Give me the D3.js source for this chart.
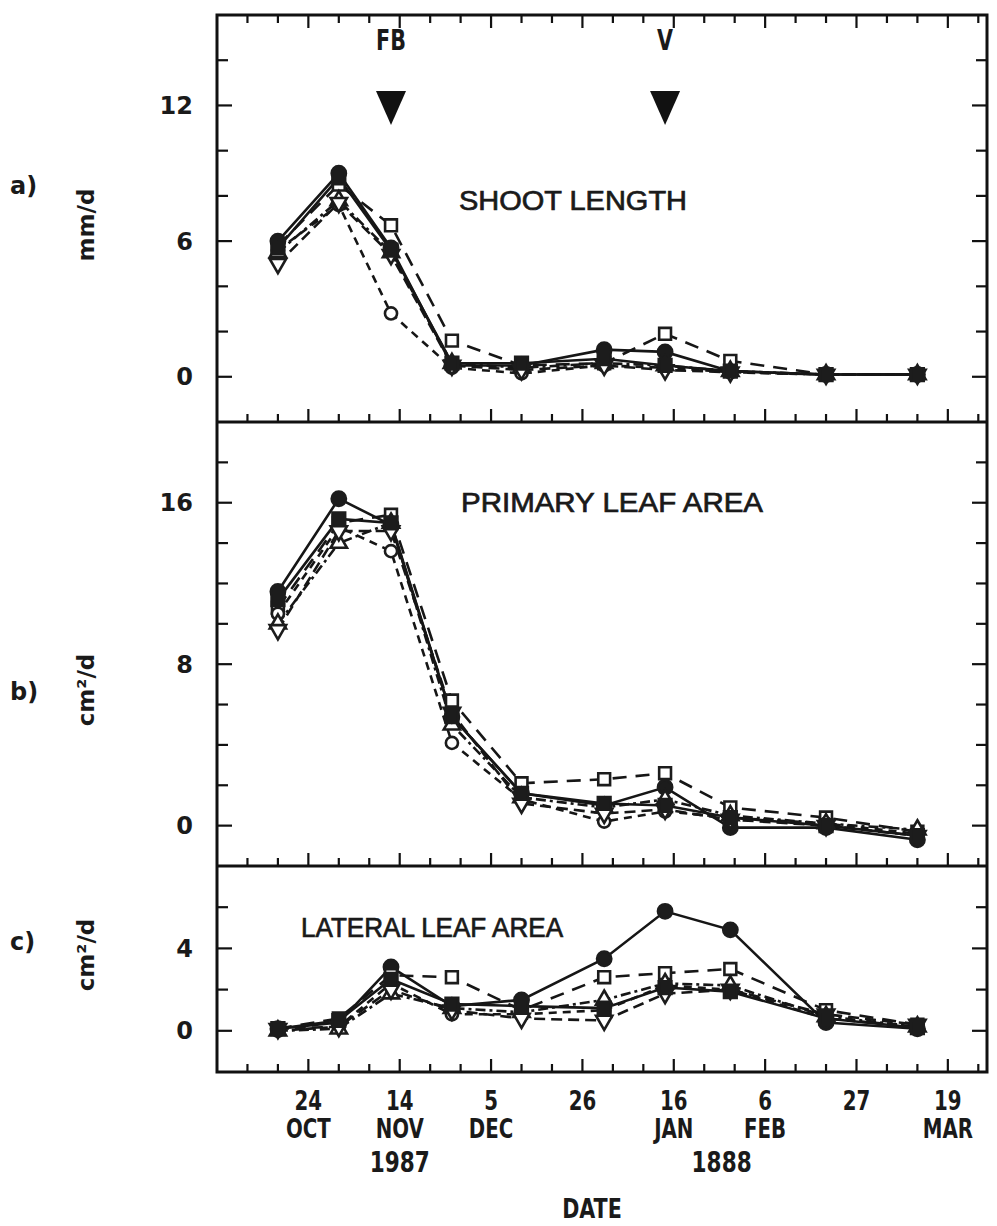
<!DOCTYPE html>
<html>
<head>
<meta charset="utf-8">
<script src="https://cdn.jsdelivr.net/npm/d3@7"></script>
<style>
  html, body { margin: 0; padding: 0; background: #fff; }
  svg { display: block; }
</style>
</head>
<body>
<script>
// Sampling dates (1987-88 season)
const sampleDates = ["1987-10-17","1987-10-31","1987-11-12","1987-11-26","1987-12-12",
                     "1987-12-31","1988-01-14","1988-01-29","1988-02-20","1988-03-12"];

// Treatment keys and their marker / line style
const seriesKeys = ["T1","T2","T3","T4","T5","T6"];

// a) shoot length growth rate, mm/d
const shootT1 = [6.0, 9.0, 5.7, 0.5, 0.5, 1.2, 1.1, 0.25, 0.1, 0.1];
const shootT2 = [5.8, 8.5, 6.7, 1.6, 0.5, 0.6, 1.9, 0.7, 0.1, 0.1];
const shootT3 = [5.6, 7.6, 2.8, 0.4, 0.15, 0.5, 0.4, 0.2, 0.1, 0.1];
const shootT4 = [5.5, 7.8, 5.5, 0.6, 0.4, 0.6, 0.5, 0.25, 0.1, 0.1];
const shootT5 = [5.0, 7.7, 5.4, 0.5, 0.3, 0.5, 0.3, 0.2, 0.1, 0.1];
const shootT6 = [5.7, 8.8, 5.6, 0.6, 0.6, 0.8, 0.5, 0.25, 0.1, 0.1];

// b) primary leaf area growth rate, cm2/d
const primaryT1 = [11.6, 16.2, 14.9, 5.4, 1.6, 1.0, 1.9, -0.1, -0.1, -0.7];
const primaryT2 = [10.8, 15.0, 15.4, 6.2, 2.1, 2.3, 2.6, 0.9, 0.4, -0.3];
const primaryT3 = [10.5, 14.8, 13.6, 4.1, 1.3, 0.2, 0.7, 0.4, 0.1, -0.4];
const primaryT4 = [10.0, 14.0, 15.0, 5.0, 1.4, 0.9, 1.3, 0.5, 0.1, -0.2];
const primaryT5 = [9.7, 14.6, 14.6, 5.6, 1.1, 0.6, 0.8, 0.3, 0.0, -0.5];
const primaryT6 = [11.2, 15.2, 15.0, 5.4, 1.6, 1.1, 1.0, 0.4, 0.0, -0.5];

// c) lateral leaf area growth rate, cm2/d
const lateralT1 = [0.1, 0.4, 3.1, 1.2, 1.5, 3.5, 5.8, 4.9, 0.4, 0.1];
const lateralT2 = [0.1, 0.6, 2.7, 2.6, 1.0, 2.6, 2.8, 3.0, 1.0, 0.3];
const lateralT3 = [0.0, 0.2, 2.3, 0.8, 0.8, 1.0, 2.2, 2.0, 0.6, 0.2];
const lateralT4 = [0.0, 0.1, 1.8, 1.1, 0.9, 1.5, 2.3, 2.2, 0.7, 0.2];
const lateralT5 = [0.1, 0.2, 2.0, 1.0, 0.6, 0.5, 1.8, 2.0, 0.8, 0.3];
const lateralT6 = [0.1, 0.5, 2.5, 1.3, 1.2, 1.1, 2.1, 1.9, 0.6, 0.15];

// Axis tick labels
const dayTickDates = ["1987-10-24","1987-11-14","1987-12-05","1987-12-26",
                      "1988-01-16","1988-02-06","1988-02-27","1988-03-19"];
const dayLabels   = ["24","14","5","26","16","6","27","19"];
const monthLabels = ["OCT","NOV","DEC","","JAN","FEB","","MAR"];
const yearLabels  = ["1987","1888"];
const yearLabelDates = ["1987-11-14","1988-01-27"];

// Phenology markers: flowering (FB) and veraison (V)
const eventLabels = ["FB","V"];
const eventDates  = ["1987-11-12","1988-01-14"];

const parse = d3.timeParse("%Y-%m-%d");

const W = 997, H = 1226;
const left = 217, right = 987;

const svg = d3.select("body").append("svg")
  .attr("width", W).attr("height", H)
  .attr("viewBox", `0 0 ${W} ${H}`);

const x = d3.scaleTime()
  .domain([parse("1987-10-03"), parse("1988-03-28")])
  .range([left, right]);

const panels = [
  { key: "a", top: 15,  bottom: 422,  domain: [-2, 16], labelTicks: [0, 6, 12], tickStep: 2,
    unit: "mm/d", unitY: 225, letterY: 186, title: "SHOOT LENGTH", titleX: 573, titleY: 210,
    data: [shootT1, shootT2, shootT3, shootT4, shootT5, shootT6] },
  { key: "b", top: 422, bottom: 866,  domain: [-2, 20], labelTicks: [0, 8, 16], tickStep: 2,
    unit: "cm²/d", unitY: 690, letterY: 692, title: "PRIMARY LEAF AREA", titleX: 612, titleY: 512,
    data: [primaryT1, primaryT2, primaryT3, primaryT4, primaryT5, primaryT6] },
  { key: "c", top: 866, bottom: 1072, domain: [-2, 8],  labelTicks: [0, 4], tickStep: 2,
    unit: "cm²/d", unitY: 955, letterY: 942, title: "LATERAL LEAF AREA", titleX: 432, titleY: 937,
    data: [lateralT1, lateralT2, lateralT3, lateralT4, lateralT5, lateralT6] }
];

// Marker and line style per treatment
const styles = {
  T1: { symbol: d3.symbolCircle,   size: 160, filled: true,  dash: null,    rotate: 0 },
  T2: { symbol: d3.symbolSquare,   size: 140, filled: false, dash: "14,9",  rotate: 0 },
  T3: { symbol: d3.symbolCircle,   size: 115, filled: false, dash: "8,6",   rotate: 0 },
  T4: { symbol: d3.symbolTriangle, size: 115, filled: false, dash: "10,4,3,4", rotate: 0 },
  T5: { symbol: d3.symbolTriangle, size: 115, filled: false, dash: "11,6",  rotate: 180 },
  T6: { symbol: d3.symbolSquare,   size: 160, filled: true,  dash: null,    rotate: 0 }
};

const dates = sampleDates.map(parse);
const fontNum = "'DejaVu Sans', 'Liberation Sans', sans-serif";
const fontNarrow = "'DejaVu Sans Condensed', 'Liberation Sans Narrow', 'Liberation Sans', sans-serif";
const fontTitle = "'Liberation Sans', Arial, sans-serif";

// Weekly / three-weekly x ticks
const weekTicks = d3.timeDay.range(parse("1987-10-03"), parse("1988-03-29"), 7);

panels.forEach((p, pi) => {
  const y = d3.scaleLinear().domain(p.domain).range([p.bottom, p.top]);
  const g = svg.append("g");

  // y ticks, left and right, pointing inward
  const yTicks = d3.range(p.domain[0] + p.tickStep, p.domain[1], p.tickStep);
  yTicks.forEach(v => {
    const major = p.labelTicks.includes(v);
    const len = major ? 15 : 11;
    g.append("line").attr("x1", left).attr("x2", left + len)
      .attr("y1", y(v)).attr("y2", y(v))
      .attr("stroke", "#111").attr("stroke-width", 2.2);
    g.append("line").attr("x1", right).attr("x2", right - len)
      .attr("y1", y(v)).attr("y2", y(v))
      .attr("stroke", "#111").attr("stroke-width", 2.2);
  });
  p.labelTicks.forEach(v => {
    g.append("text").attr("x", 193).attr("y", y(v)).attr("dy", "0.36em")
      .attr("text-anchor", "end").attr("font-family", fontNum)
      .attr("font-size", 24).attr("font-weight", "bold").attr("fill", "#1a1a1a")
      .text(v);
  });

  // x ticks along the bottom of each panel, pointing up
  weekTicks.forEach((d, i) => {
    if (i === 0) return;
    const major = (i % 3 === 0);
    const len = major ? 13 : 8;
    g.append("line").attr("x1", x(d)).attr("x2", x(d))
      .attr("y1", p.bottom).attr("y2", p.bottom - len)
      .attr("stroke", "#111").attr("stroke-width", 2.2);
    if (pi === 0) {
      g.append("line").attr("x1", x(d)).attr("x2", x(d))
        .attr("y1", p.top).attr("y2", p.top + len)
        .attr("stroke", "#111").attr("stroke-width", 2.2);
    }
  });

  // Panel letter and unit
  g.append("text").attr("x", 10).attr("y", p.letterY).attr("dy", "0.35em")
    .attr("font-family", fontNum).attr("font-size", 24).attr("font-weight", "bold")
    .attr("fill", "#1a1a1a").text(p.key + ")");
  g.append("text")
    .attr("transform", `translate(94,${p.unitY}) rotate(-90)`)
    .attr("text-anchor", "middle").attr("font-family", fontNum)
    .attr("font-size", 23).attr("font-weight", "bold").attr("fill", "#1a1a1a")
    .text(p.unit);

  // Panel title
  g.append("text").attr("x", p.titleX).attr("y", p.titleY)
    .attr("text-anchor", "middle").attr("font-family", fontTitle)
    .attr("font-size", 27).attr("fill", "#1a1a1a")
    .attr("stroke", "#1a1a1a").attr("stroke-width", 0.7)
    .attr("textLength", p.key === "a" ? 228 : (p.key === "b" ? 302 : 262))
    .attr("lengthAdjust", "spacingAndGlyphs")
    .text(p.title);

  // Series lines
  const line = d3.line().x((d, i) => x(dates[i])).y(d => y(d));
  seriesKeys.forEach((k, si) => {
    const st = styles[k];
    g.append("path").datum(p.data[si])
      .attr("d", line)
      .attr("fill", "none").attr("stroke", "#161616")
      .attr("stroke-width", 2.6)
      .attr("stroke-dasharray", st.dash);
  });
  // Series markers
  seriesKeys.forEach((k, si) => {
    const st = styles[k];
    const sym = d3.symbol().type(st.symbol).size(st.size);
    g.selectAll(null).data(p.data[si]).join("path")
      .attr("d", sym)
      .attr("transform", (d, i) => `translate(${x(dates[i])},${y(d)}) rotate(${st.rotate})`)
      .attr("fill", st.filled ? "#1c1c1c" : "#fff")
      .attr("stroke", "#1c1c1c").attr("stroke-width", 2.6);
  });
});

// Frame and panel dividers
svg.append("rect").attr("x", left).attr("y", panels[0].top)
  .attr("width", right - left).attr("height", panels[2].bottom - panels[0].top)
  .attr("fill", "none").attr("stroke", "#111").attr("stroke-width", 3);
[panels[0].bottom, panels[1].bottom].forEach(yy => {
  svg.append("line").attr("x1", left).attr("x2", right).attr("y1", yy).attr("y2", yy)
    .attr("stroke", "#111").attr("stroke-width", 3);
});

// Tall, narrow label helper
function tallText(xPos, yPos, size, str, stretch) {
  svg.append("text")
    .attr("transform", `translate(${xPos},${yPos}) scale(1,${stretch})`)
    .attr("text-anchor", "middle")
    .attr("font-family", fontNarrow).attr("font-size", size).attr("font-weight", "bold")
    .attr("fill", "#1a1a1a")
    .text(str);
}

// Phenology arrows
eventDates.forEach((ds, i) => {
  const cx = x(parse(ds));
  tallText(cx, 50, 23, eventLabels[i], 1.2);
  svg.append("path")
    .attr("d", `M${cx - 15},91 L${cx + 15},91 L${cx},125 Z`)
    .attr("fill", "#111");
});

// Date labels below the bottom panel
dayTickDates.forEach((ds, i) => {
  const cx = x(parse(ds));
  tallText(cx, 1110, 22, dayLabels[i], 1.18);
  if (monthLabels[i]) tallText(cx, 1138, 22, monthLabels[i], 1.18);
});
yearLabelDates.forEach((ds, i) => {
  tallText(x(parse(ds)), 1172, 24, yearLabels[i], 1.18);
});
tallText(592, 1218, 23, "DATE", 1.18);
</script>
</body>
</html>
